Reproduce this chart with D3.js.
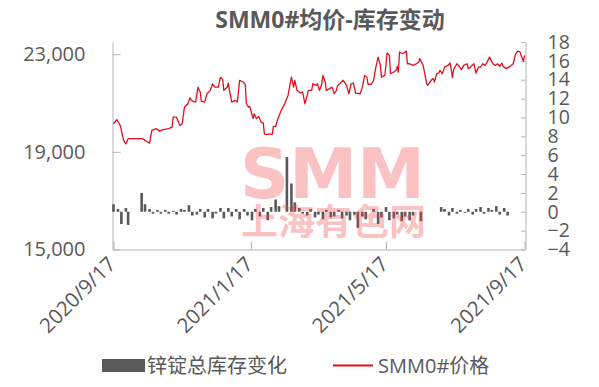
<!DOCTYPE html>
<html><head><meta charset="utf-8">
<script src="https://cdn.jsdelivr.net/npm/d3@7"></script>
<style>
html,body{margin:0;padding:0;background:#fff;}
svg{display:block;}
text{font-family:'Open Sans','Noto Sans CJK SC',sans-serif;fill:#595959;}
</style></head>
<body><svg id="c" width="599" height="387"></svg>
<script>
const title = "SMM0#均价-库存变动";
const seriesNames = ["锌锭总库存变化", "SMM0#价格"];
const xTickLabels = ["2020-09-17", "2021-01-17", "2021-05-17", "2021-09-17"];
const leftTicks = [15000, 19000, 23000];
const rightTicks = [-4,-2,0,2,4,6,8,10,12,14,16,18];

const priceDates = ["2020-09-17","2020-09-20","2020-09-23","2020-09-24","2020-09-26","2020-09-28","2020-09-30","2020-10-13","2020-10-15","2020-10-19","2020-10-21","2020-10-25","2020-10-28","2020-10-31","2020-11-05","2020-11-08","2020-11-09","2020-11-12","2020-11-15","2020-11-17","2020-11-19","2020-11-22","2020-11-24","2020-11-25","2020-11-27","2020-11-29","2020-12-01","2020-12-03","2020-12-04","2020-12-07","2020-12-09","2020-12-12","2020-12-14","2020-12-16","2020-12-19","2020-12-21","2020-12-23","2020-12-24","2020-12-27","2020-12-28","2020-12-29","2020-12-31","2021-01-03","2021-01-05","2021-01-07","2021-01-10","2021-01-12","2021-01-13","2021-01-15","2021-01-16","2021-01-19","2021-01-20","2021-01-22","2021-01-24","2021-01-26","2021-01-28","2021-01-29","2021-01-31","2021-02-02","2021-02-05","2021-02-06","2021-02-08","2021-02-10","2021-02-13","2021-02-16","2021-02-19","2021-02-22","2021-02-24","2021-02-25","2021-02-27","2021-03-02","2021-03-04","2021-03-06","2021-03-08","2021-03-09","2021-03-12","2021-03-13","2021-03-16","2021-03-17","2021-03-19","2021-03-21","2021-03-22","2021-03-24","2021-03-25","2021-03-28","2021-03-30","2021-04-01","2021-04-03","2021-04-04","2021-04-06","2021-04-09","2021-04-12","2021-04-14","2021-04-16","2021-04-18","2021-04-20","2021-04-24","2021-04-26","2021-04-28","2021-04-30","2021-05-01","2021-05-04","2021-05-06","2021-05-08","2021-05-10","2021-05-12","2021-05-13","2021-05-16","2021-05-18","2021-05-20","2021-05-21","2021-05-24","2021-05-26","2021-05-27","2021-05-28","2021-05-29","2021-06-01","2021-06-03","2021-06-04","2021-06-05","2021-06-07","2021-06-10","2021-06-13","2021-06-15","2021-06-16","2021-06-19","2021-06-22","2021-06-23","2021-06-25","2021-06-26","2021-06-28","2021-06-29","2021-07-01","2021-07-03","2021-07-04","2021-07-06","2021-07-08","2021-07-11","2021-07-13","2021-07-15","2021-07-16","2021-07-19","2021-07-21","2021-07-23","2021-07-25","2021-07-28","2021-07-29","2021-07-31","2021-08-03","2021-08-05","2021-08-07","2021-08-09","2021-08-11","2021-08-13","2021-08-14","2021-08-17","2021-08-20","2021-08-22","2021-08-24","2021-08-26","2021-08-28","2021-08-29","2021-09-01","2021-09-04","2021-09-07","2021-09-09","2021-09-11","2021-09-13","2021-09-15","2021-09-16","2021-09-17"];
const priceValues = [20150,20320,20080,19880,19470,19330,19540,19540,19470,19360,19880,19950,19850,19910,19950,20010,20420,20420,20080,20150,20830,20970,21220,21110,21070,21040,21650,21450,21070,21040,21380,21520,21790,21650,21650,22060,21960,21520,21650,21820,21520,21040,21110,21040,21930,21860,21770,20970,20830,20860,20360,20560,20360,20450,20220,20180,19740,19700,19740,19720,20040,20040,20360,20700,20970,21310,22060,21650,21930,21520,21410,21450,20970,21310,21520,21520,21790,21720,21790,21520,21790,22130,21860,21520,21590,21650,21380,21520,21720,21790,21930,21720,21380,21790,21820,21410,21380,21650,22130,22060,21770,21770,21930,22470,22880,22540,22060,22130,23050,22950,22200,22270,22340,22500,22270,23090,23020,23090,23130,22610,22610,22540,22610,22680,22820,22540,21820,21720,21860,21930,22000,21860,22200,22230,22340,22200,22470,22540,22640,22040,22370,22610,22500,22370,22540,22610,22410,22470,22610,22230,22470,22470,22610,22540,22610,22880,22610,22540,22610,22500,22640,22500,22410,22500,22610,23000,23130,23090,22820,22720,22950];

const invDates = ["2020-09-17","2020-09-21","2020-09-24","2020-09-28","2020-09-30","2020-10-12","2020-10-15","2020-10-19","2020-10-22","2020-10-26","2020-10-29","2020-11-02","2020-11-05","2020-11-09","2020-11-12","2020-11-16","2020-11-19","2020-11-23","2020-11-26","2020-11-30","2020-12-03","2020-12-07","2020-12-10","2020-12-14","2020-12-17","2020-12-21","2020-12-24","2020-12-28","2020-12-31","2021-01-04","2021-01-07","2021-01-11","2021-01-14","2021-01-18","2021-01-21","2021-01-25","2021-01-28","2021-02-01","2021-02-04","2021-02-08","2021-02-11","2021-02-18","2021-02-22","2021-02-25","2021-03-01","2021-03-04","2021-03-08","2021-03-11","2021-03-15","2021-03-18","2021-03-22","2021-03-25","2021-03-29","2021-04-01","2021-04-05","2021-04-08","2021-04-12","2021-04-15","2021-04-19","2021-04-22","2021-04-26","2021-04-29","2021-05-06","2021-05-10","2021-05-13","2021-05-17","2021-05-20","2021-05-24","2021-05-27","2021-05-31","2021-06-03","2021-06-07","2021-06-10","2021-06-17","2021-07-05","2021-07-08","2021-07-12","2021-07-15","2021-07-19","2021-07-22","2021-07-26","2021-07-29","2021-08-02","2021-08-05","2021-08-09","2021-08-12","2021-08-16","2021-08-19","2021-08-23","2021-08-26","2021-08-30","2021-09-02"];
const invValues = [0.8,0.3,-1.3,0.4,-1.4,2.0,0.8,0.3,-0.2,0.2,-0.2,0.2,-0.2,0.1,-0.3,0.3,0.2,0.7,-0.4,-0.3,0.3,-0.6,0.3,-0.7,-0.2,0.4,-0.7,0.4,-0.5,0.3,-0.8,0.3,-0.4,-0.9,0.3,-0.5,0.4,-0.9,0.5,1.3,0.6,5.8,3.0,1.0,0.4,-0.2,-0.4,0.3,-0.6,-0.3,-0.8,0.2,-0.6,-0.5,0.2,-0.7,-0.4,-0.9,-0.3,-1.7,-0.5,-0.8,0.3,-1.3,-0.6,0.5,-0.9,-0.7,-0.3,-1.0,-0.5,-0.9,-0.4,-1.0,0.5,0.3,-0.4,0.4,-0.2,0.2,-0.1,0.3,-0.3,0.3,0.5,-0.2,0.4,0.2,0.6,-0.3,0.4,-0.4];

const parse = d3.timeParse("%Y-%m-%d");
const svg = d3.select("#c");

const x = d3.scaleTime().domain([parse("2020-09-17"), parse("2021-09-17")]).range([113.5, 524.5]);
const yL = d3.scaleLinear().domain([15000, 23500]).range([249.5, 42]);
const yR = d3.scaleLinear().domain([-4, 18]).range([249.5, 42]);

// title
svg.append("text").attr("x", 330).attr("y", 28).attr("text-anchor", "middle")
  .style("font-size", "23px").style("font-weight", "700").text(title);

const axisColor = "#b4b4b4";
function styleAxis(g, size) {
  g.selectAll("path,line").attr("stroke", axisColor).attr("stroke-width", 1);
  g.selectAll("text").style("font-size", size + "px").attr("fill", "#595959");
}

// left axis
svg.append("g").attr("transform", "translate(112.5,0)")
  .call(d3.axisLeft(yL).tickValues(leftTicks).tickSizeInner(-8).tickSizeOuter(0).tickPadding(27)
    .tickFormat(d3.format(",")))
  .call(styleAxis, 20);

// right axis
svg.append("g").attr("transform", "translate(525.5,0)")
  .call(d3.axisRight(yR).tickValues(rightTicks).tickSizeInner(-4.5).tickSizeOuter(0).tickPadding(22)
    .tickFormat(d3.format("d")))
  .call(styleAxis, 19.5);

// bottom axis
const fmt = d => `${d.getFullYear()}/${d.getMonth()+1}/${d.getDate()}`;
const gx = svg.append("g").attr("transform", "translate(0,249.5)")
  .call(d3.axisBottom(x).tickValues(xTickLabels.map(parse)).tickSizeInner(-8).tickSizeOuter(0).tickFormat(fmt))
  .call(styleAxis, 20.5);
gx.selectAll("text").attr("text-anchor", "end").attr("dy", null).attr("y", null)
  .attr("transform", "translate(3,16) rotate(-45)");

// bars
const bw = 2.6;
svg.append("g").selectAll("rect").data(invDates.map((d,i)=>({d:parse(d), v:invValues[i]})))
  .join("rect")
  .attr("x", d => x(d.d) - bw/2)
  .attr("y", d => Math.min(yR(d.v), yR(0)))
  .attr("width", bw)
  .attr("height", d => Math.abs(yR(d.v) - yR(0)))
  .attr("fill", "#595959");

// price line
const line = d3.line().x(d => x(d.d)).y(d => yL(d.v));
svg.append("path").datum(priceDates.map((d,i)=>({d:parse(d), v:priceValues[i]})))
  .attr("d", line).attr("fill", "none").attr("stroke", "#e01020").attr("stroke-width", 1.3)
  .attr("stroke-linejoin", "round");

// watermark
const wm = svg.append("g").attr("opacity", 0.33);
wm.append("text").attr("x", 240).attr("y", 198).attr("textLength", 185).attr("lengthAdjust", "spacingAndGlyphs")
  .style("font-family", "'DejaVu Sans'").style("font-weight", "700").style("font-size", "70px")
  .style("fill", "#f04848").text("SMM");
wm.append("text").attr("x", 241).attr("y", 235).attr("textLength", 185).attr("lengthAdjust", "spacingAndGlyphs")
  .style("font-family", "'Noto Sans CJK SC'").style("font-weight", "700").style("font-size", "36px")
  .style("fill", "#f04848").text("上海有色网");

// legend
svg.append("rect").attr("x", 102).attr("y", 359).attr("width", 43).attr("height", 13).attr("fill", "#595959");
svg.append("text").attr("x", 147).attr("y", 373).style("font-size", "20px").text(seriesNames[0]);
svg.append("line").attr("x1", 333).attr("x2", 373).attr("y1", 365.5).attr("y2", 365.5)
  .attr("stroke", "#e01020").attr("stroke-width", 2);
svg.append("text").attr("x", 378).attr("y", 373).style("font-size", "20px").text(seriesNames[1]);
</script></body></html>
